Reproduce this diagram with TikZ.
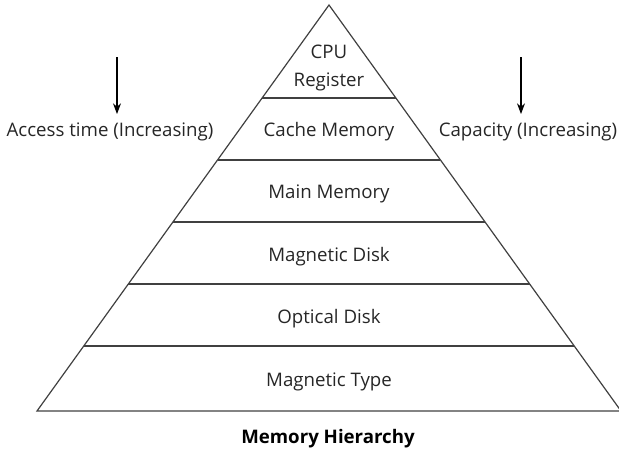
\documentclass[tikz,border=0pt]{standalone}
\usepackage{fontspec}
\setmainfont{Open Sans}
\usetikzlibrary{calc,arrows.meta}
\begin{document}
\begin{tikzpicture}[x=0.75pt,y=-0.75pt,
  edge/.style={draw=black!75,line width=0.9pt},
  lbl/.style={font=\fontsize{14}{21}\selectfont,text=black!85,align=center,inner sep=0pt},
  arr/.style={draw=black,line width=0.8pt,-{Stealth[length=8pt,width=6pt]}}]
\useasboundingbox (0,0) rectangle (619,450);
\clip (0,0) rectangle (619,450);
\coordinate (A) at (329,5);
\coordinate (L) at (37,411);
\coordinate (R) at (621,411);
\draw[edge] (A) -- (L) -- (R) -- cycle;
\foreach \yy [count=\i] in {98,160,222,284,346}{
  \draw[edge] ($(A)!{(\yy-5)/406}!(L)$) coordinate (l\i) -- ($(A)!{(\yy-5)/406}!(R)$) coordinate (r\i);
}
\node[lbl] (cpu) at (329,68) {CPU\\Register};
\node[lbl] (cache) at (329,132) {Cache Memory};
\node[lbl] (main) at (329,194) {Main Memory};
\node[lbl] (mdisk) at (329,257) {Magnetic Disk};
\node[lbl] (odisk) at (329,319) {Optical Disk};
\node[lbl] (mtype) at (329,382) {Magnetic Type};
\node[lbl,font=\fontsize{14}{17}\selectfont\bfseries,text=black] (title) at (328,439) {Memory Hierarchy};
\node[lbl] (acc) at (110,132) {Access time (Increasing)};
\node[lbl] (cap) at (528,132) {Capacity (Increasing)};
\coordinate (a1) at (117,57);
\coordinate (a2) at (117,114);
\coordinate (c1) at (521,57);
\coordinate (c2) at (521,114);
\draw[arr] (a1) -- (a2);
\draw[arr] (c1) -- (c2);
\end{tikzpicture}
\end{document}
